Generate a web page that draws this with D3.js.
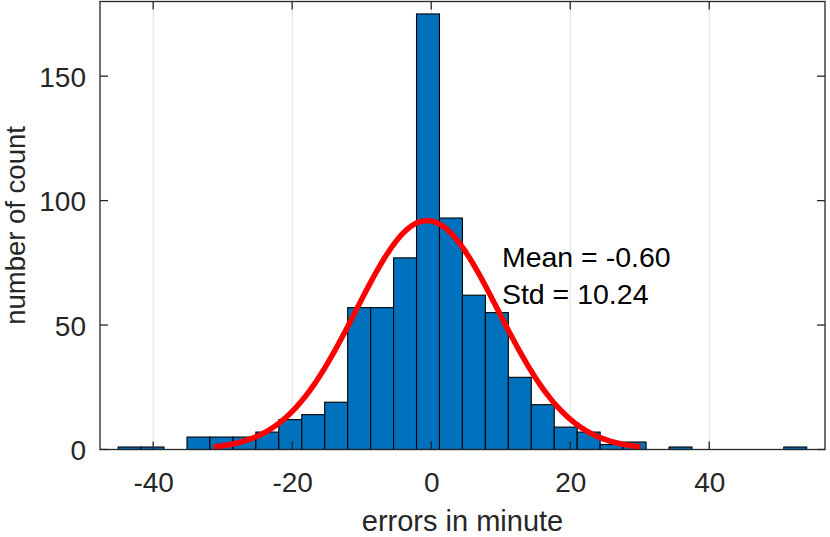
<!DOCTYPE html>
<html>
<head>
<meta charset="utf-8">
<script src="https://cdn.jsdelivr.net/npm/d3@7/dist/d3.min.js"></script>
<style>
  html, body { margin: 0; padding: 0; background: #ffffff; }
  svg { display: block; }
  text { font-family: "Liberation Sans", Arial, Helvetica, sans-serif; }
</style>
</head>
<body>
<svg id="chart" width="830" height="537"></svg>
<script>
// ---- data ----
const binStart = -45.04;          // left edge of first bin (minutes)
const binWidth = 3.302;           // bin width (minutes)
const counts = [1, 1, 0, 5, 5, 5, 7, 12, 14, 19, 57, 57, 77, 175, 93, 62, 55, 29, 18, 9, 7, 2, 3, 0, 1, 0, 0, 0, 0, 1];
const fitMean = -0.60;
const fitStd = 10.24;
const xTicks = [-40, -20, 0, 20, 40];
const yTicks = [0, 50, 100, 150];
const xDomain = [-47.65, 56.65];
const yDomain = [0, 180];
const annotations = ["Mean = -0.60", "Std = 10.24"];
const xLabel = "errors in minute";
const yLabel = "number of count";

// ---- layout ----
const L = 100, R = 825, T = 1.5, B = 449.5;
const svg = d3.select("#chart");
const x = d3.scaleLinear().domain(xDomain).range([L, R]);
const y = d3.scaleLinear().domain(yDomain).range([B, T]);
const axisColor = "#262626";
const fmt = d => String(d);   // plain hyphen-minus like the reference

// grid (vertical only)
svg.append("g").selectAll("line").data(xTicks).join("line")
  .attr("x1", d => x(d)).attr("x2", d => x(d))
  .attr("y1", T).attr("y2", B)
  .attr("stroke", "#dfdfdf").attr("stroke-width", 1);

// bars
const bins = counts.map((c, i) => ({ x0: binStart + i * binWidth, x1: binStart + (i + 1) * binWidth, c }));
svg.append("g").selectAll("rect").data(bins.filter(b => b.c > 0)).join("rect")
  .attr("x", d => x(d.x0)).attr("width", d => x(d.x1) - x(d.x0))
  .attr("y", d => y(d.c)).attr("height", d => y(0) - y(d.c))
  .attr("fill", "#0072BD").attr("stroke", "#000000").attr("stroke-width", 1.1);

// fitted normal curve (mean ± 3 std), scaled to histogram area
const N = d3.sum(counts);
const fitX = d3.range(0, 201).map(i => fitMean - 3 * fitStd + i * (6 * fitStd / 200));
const fitPts = fitX.map(v => [v, N * binWidth * Math.exp(-0.5 * ((v - fitMean) / fitStd) ** 2) / (fitStd * Math.sqrt(2 * Math.PI))]);
svg.append("path").datum(fitPts)
  .attr("d", d3.line().x(d => x(d[0])).y(d => y(d[1])))
  .attr("fill", "none").attr("stroke", "#ff0000").attr("stroke-width", 5.5)
  .attr("stroke-linejoin", "round");

// axes: box, ticks inside
const tickLen = 8;
const ax = svg.append("g").attr("stroke", axisColor).attr("stroke-width", 1.3).attr("fill", "none");
ax.append("rect").attr("x", L).attr("y", T).attr("width", R - L).attr("height", B - T);
xTicks.forEach(t => {
  ax.append("line").attr("x1", x(t)).attr("x2", x(t)).attr("y1", B).attr("y2", B - tickLen);
  ax.append("line").attr("x1", x(t)).attr("x2", x(t)).attr("y1", T).attr("y2", T + tickLen);
});
yTicks.forEach(t => {
  ax.append("line").attr("x1", L).attr("x2", L + tickLen).attr("y1", y(t)).attr("y2", y(t));
  ax.append("line").attr("x1", R).attr("x2", R - tickLen).attr("y1", y(t)).attr("y2", y(t));
});

// tick labels via d3 axes (lines hidden)
const gx = svg.append("g").attr("transform", `translate(0,${B})`)
  .call(d3.axisBottom(x).tickValues(xTicks).tickSize(0).tickPadding(0).tickFormat(fmt));
gx.select(".domain").remove();
gx.selectAll("text").attr("y", 42.5).attr("dy", null)
  .attr("font-size", 28).attr("fill", axisColor)
  .attr("font-family", "Liberation Sans, Arial, Helvetica, sans-serif");

const gy = svg.append("g").attr("transform", `translate(${L},0)`)
  .call(d3.axisLeft(y).tickValues(yTicks).tickSize(0).tickPadding(0).tickFormat(fmt));
gy.select(".domain").remove();
gy.selectAll("text").attr("x", -14).attr("dy", "0.36em")
  .attr("font-size", 28).attr("fill", axisColor)
  .attr("font-family", "Liberation Sans, Arial, Helvetica, sans-serif");

// axis labels
svg.append("text").attr("x", (L + R) / 2).attr("y", 531)
  .attr("text-anchor", "middle").attr("font-size", 29).attr("fill", axisColor)
  .text(xLabel);
svg.append("text")
  .attr("transform", `translate(24.5,${(T + B) / 2}) rotate(-90)`)
  .attr("text-anchor", "middle").attr("font-size", 27.5).attr("fill", axisColor)
  .text(yLabel);

// annotation text
svg.append("text").attr("x", x(10.17)).attr("y", y(73.5))
  .attr("font-size", 28.5).attr("fill", "#000000").text(annotations[0]);
svg.append("text").attr("x", x(10.17)).attr("y", y(58.4))
  .attr("font-size", 28.5).attr("fill", "#000000").text(annotations[1]);
</script>
</body>
</html>
